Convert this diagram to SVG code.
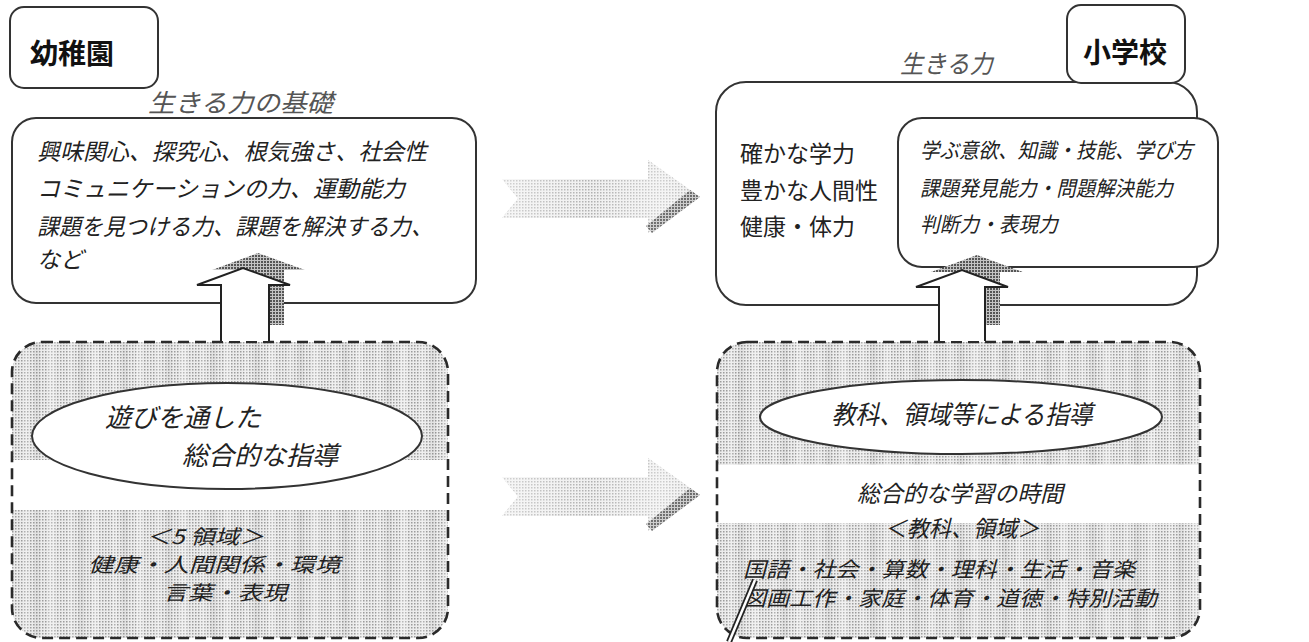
<svg xmlns="http://www.w3.org/2000/svg" width="1309" height="642" viewBox="0 0 1309 642">
<style>
.box{fill:#fff;stroke:#333;stroke-width:2}
.dash{fill:none;stroke:#2a2a2a;stroke-width:2.6;stroke-dasharray:11 6}
.ell{fill:#fff;stroke:#333;stroke-width:2}
.jp{font-family:"Noto Sans CJK JP","Noto Sans",sans-serif;fill:#222}
.it{font-style:italic}
.ttl{font-weight:bold;font-size:28px;fill:#111}
.sub{font-size:25px;fill:#555}
.arr{fill:#fff;stroke:#222;stroke-width:2}
.shd{fill:url(#hatch)}
</style>
<defs>
<pattern id="ht" width="3" height="3" patternUnits="userSpaceOnUse"><rect width="3" height="3" fill="#ececec"/><rect width="1.5" height="1.5" fill="#9c9c9c"/></pattern>
<pattern id="stripes" width="44" height="640" patternUnits="userSpaceOnUse"><rect x="4" width="7" height="640" fill="#fff" opacity="0.28"/><rect x="24" width="5" height="640" fill="#fff" opacity="0.2"/><rect x="34" width="6" height="640" fill="#000" opacity="0.04"/></pattern>
<pattern id="hatch" width="3" height="3" patternUnits="userSpaceOnUse"><rect width="3" height="3" fill="#c4c4c4"/><rect width="2" height="2" fill="#555"/></pattern>
<linearGradient id="ag" x1="0" y1="0" x2="1" y2="0"><stop offset="0" stop-color="#fff" stop-opacity="0.55"/><stop offset="0.45" stop-color="#fff" stop-opacity="0.2"/><stop offset="0.8" stop-color="#fff" stop-opacity="0.5"/><stop offset="1" stop-color="#fff" stop-opacity="0.25"/></linearGradient>
<clipPath id="cl"><rect x="12" y="342" width="436" height="296" rx="30"/></clipPath>
<clipPath id="cr"><rect x="717" y="342" width="483" height="296" rx="30"/></clipPath>
<path id="blk" d="M502,179 L648,179 L648,160 L700,197 L648,233 L648,218 L502,218 L518,198.5 Z"/>
</defs>

<g id="kindergarten-label">
<rect class="box" x="10" y="7" width="148" height="81" rx="14"/>
<text class="jp ttl" x="30" y="64">幼稚園</text>
</g>

<g id="kindergarten-basis">
<text class="jp it sub" x="148" y="112" textLength="185" lengthAdjust="spacingAndGlyphs">生きる力の基礎</text>
<rect class="box" x="12" y="118" width="464" height="185" rx="24"/>
<g class="jp it" font-size="23">
<text x="37" y="160" textLength="390" lengthAdjust="spacingAndGlyphs">興味関心、探究心、根気強さ、社会性</text>
<text x="37" y="197" textLength="368" lengthAdjust="spacingAndGlyphs">コミュニケーションの力、運動能力</text>
<text x="37" y="235" textLength="396" lengthAdjust="spacingAndGlyphs">課題を見つける力、課題を解決する力、</text>
<text x="37" y="268">など</text>
</g>
</g>

<g id="kindergarten-guidance">
<g clip-path="url(#cl)">
<rect x="12" y="342" width="436" height="296" fill="url(#ht)"/>
<rect x="12" y="342" width="436" height="296" fill="url(#stripes)"/>
<rect x="12" y="460" width="436" height="50" fill="#fff"/>
</g>
<rect class="dash" x="12" y="342" width="436" height="296" rx="30"/>
<ellipse class="ell" cx="227" cy="436" rx="195" ry="53"/>
<g class="jp it" font-size="26">
<text x="105" y="427">遊びを通した</text>
<text x="182" y="465">総合的な指導</text>
</g>
<g class="jp it" font-size="20" text-anchor="middle">
<text x="205" y="544" textLength="118" lengthAdjust="spacingAndGlyphs">＜5 領域＞</text>
<text x="214" y="572" textLength="252" lengthAdjust="spacingAndGlyphs">健康・人間関係・環境</text>
<text x="225" y="600" textLength="124" lengthAdjust="spacingAndGlyphs">言葉・表現</text>
</g>
</g>

<g id="school-label">
<text class="jp it sub" x="900" y="73" textLength="93" lengthAdjust="spacingAndGlyphs">生きる力</text>
</g>

<g id="school-ability">
<rect class="box" x="716" y="82" width="481" height="223" rx="30"/>
<g class="jp" font-size="23" fill="#333">
<text x="740" y="162">確かな学力</text>
<text x="740" y="199">豊かな人間性</text>
<text x="740" y="235">健康・体力</text>
</g>
</g>

<g id="school-detail">
<rect class="box" x="898" y="118" width="320" height="149" rx="24"/>
<g class="jp it" font-size="21">
<text x="920" y="158" textLength="273" lengthAdjust="spacingAndGlyphs">学ぶ意欲、知識・技能、学び方</text>
<text x="920" y="196" textLength="253" lengthAdjust="spacingAndGlyphs">課題発見能力・問題解決能力</text>
<text x="920" y="232" textLength="138" lengthAdjust="spacingAndGlyphs">判断力・表現力</text>
</g>
</g>

<g id="school-tag">
<rect class="box" x="1067" y="5" width="118" height="78" rx="14"/>
<text class="jp ttl" x="1083" y="63" font-size="27">小学校</text>
</g>

<g id="school-guidance">
<g clip-path="url(#cr)">
<rect x="717" y="342" width="483" height="296" fill="url(#ht)"/>
<rect x="717" y="342" width="483" height="296" fill="url(#stripes)"/>
<rect x="717" y="465" width="483" height="58" fill="#fff"/>
</g>
<rect class="dash" x="717" y="342" width="483" height="296" rx="30"/>
<ellipse class="ell" cx="961" cy="417" rx="201" ry="37"/>
<g class="jp it" text-anchor="middle">
<text x="962" y="424" font-size="26" textLength="261" lengthAdjust="spacingAndGlyphs">教科、領域等による指導</text>
<text x="960" y="502" font-size="23" textLength="206" lengthAdjust="spacingAndGlyphs">総合的な学習の時間</text>
<text x="962" y="537" font-size="23" textLength="155" lengthAdjust="spacingAndGlyphs">＜教科、領域＞</text>
</g>
<g class="jp it" font-size="21">
<text x="743" y="577" textLength="392" lengthAdjust="spacingAndGlyphs">国語・社会・算数・理科・生活・音楽</text>
<text x="743" y="606" textLength="414" lengthAdjust="spacingAndGlyphs">図画工作・家庭・体育・道徳・特別活動</text>
</g>
<line x1="755" y1="580" x2="729" y2="642" stroke="#222" stroke-width="6"/>
<line x1="755" y1="580" x2="729" y2="642" stroke="#fff" stroke-width="2.5"/>
</g>

<g id="connectors">
<g id="arrow-right-top">
<use href="#blk" fill="url(#ht)"/>
<use href="#blk" fill="url(#ag)"/>
<polygon points="690,190 700,197 652,233 646,226" fill="url(#hatch)" opacity="0.8"/>
</g>
<g id="arrow-right-bottom" transform="translate(0,298)">
<use href="#blk" fill="url(#ht)"/>
<use href="#blk" fill="url(#ag)"/>
<polygon points="690,190 700,197 652,233 646,226" fill="url(#hatch)" opacity="0.8"/>
</g>
<g id="arrow-up-left">
<path class="shd" transform="translate(15,-15)" d="M221,340 L221,285 L197,285 L243,268 L290,285 L269,285 L269,340 Z"/>
<path class="arr" d="M221,341 L221,285 L197,285 L243,268 L290,285 L269,285 L269,341"/>
</g>
<g id="arrow-up-right">
<path class="shd" transform="translate(15,-15)" d="M939,340 L939,287 L916,287 L962,270 L1008,287 L985,287 L985,340 Z"/>
<path class="arr" d="M939,341 L939,287 L916,287 L962,270 L1008,287 L985,287 L985,341"/>
</g>
</g>
</svg>
